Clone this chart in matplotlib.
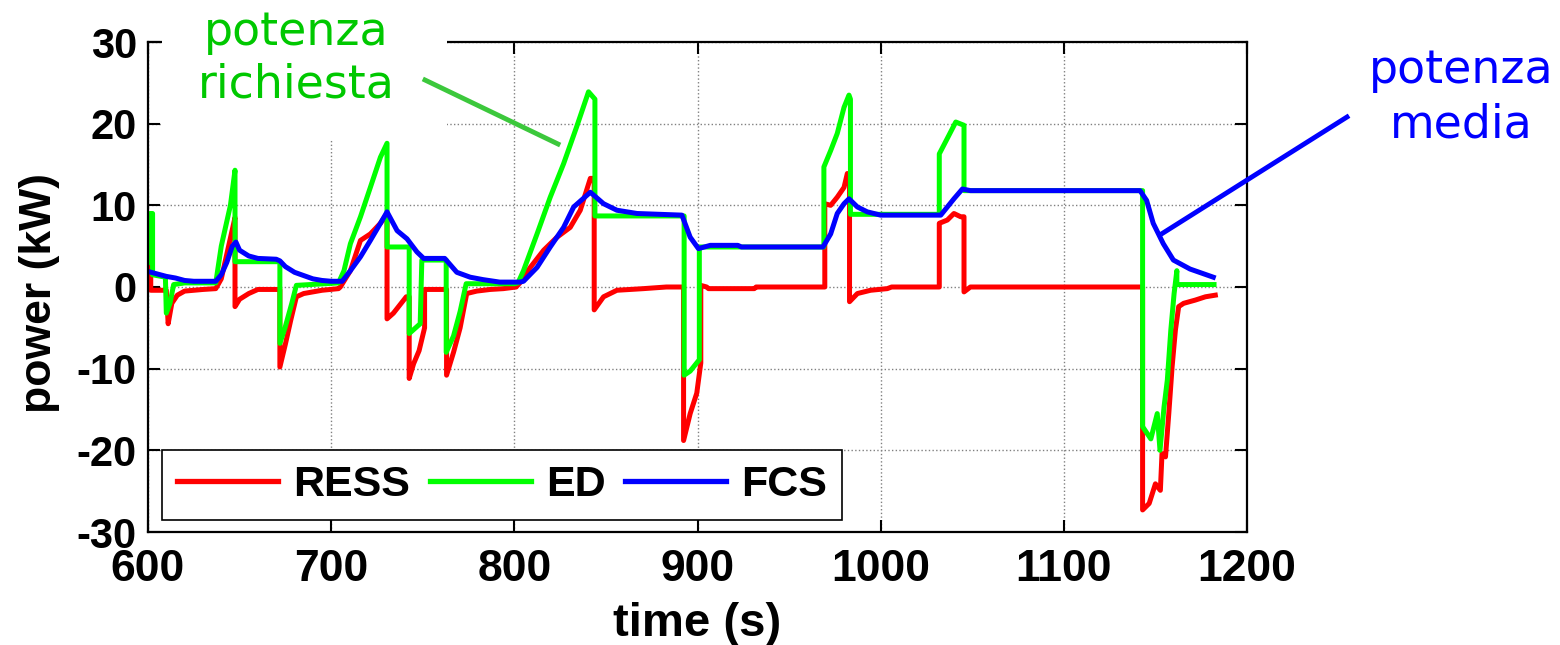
import matplotlib
matplotlib.use("Agg")
import matplotlib.pyplot as plt
from matplotlib.patches import Rectangle
from matplotlib.lines import Line2D

plt.rcParams["axes.unicode_minus"] = False

# ---------------- data ----------------
t_ress = [600, 601.5, 601.5, 610, 611, 613, 616, 620, 630, 637, 640, 645, 647.5, 647.5,
          650, 655, 660, 672, 672, 675, 678, 681, 685, 695, 704, 705, 710.5, 716, 721.4,
          726.9, 730.5, 730.5, 734, 741, 742.6, 742.6, 745, 748, 751, 751, 763, 763, 766.8,
          770.4, 774, 779.5, 786.8, 794, 801, 803, 808.7, 816, 823.3, 830.5, 836, 841.5,
          843.6, 843.6, 848.7, 856, 870.5, 883, 892.4, 892.4, 896, 899.6, 901.8, 901.8,
          905, 906, 931, 932, 969.5, 969.5, 972.7, 976.3, 980, 981.8, 983, 983, 987.3,
          994.5, 1003.6, 1006, 1032, 1032, 1036.4, 1040, 1043.7, 1045.5, 1045.5, 1049,
          1143, 1143, 1146.6, 1150, 1152.7, 1153.6, 1155.5, 1157.3, 1159.1, 1160.9, 1162.7,
          1165.4, 1171.8, 1177.3, 1182.7]
p_ress = [3.3, 3.3, -0.4, -0.4, -4.5, -2.0, -1.0, -0.5, -0.3, -0.2, 1.0, 6.0, 8.5, -2.4,
          -1.5, -0.8, -0.3, -0.3, -9.8, -7.0, -4.0, -1.2, -0.8, -0.4, -0.2, 0.0, 2.0, 5.7, 6.5,
          7.8, 9.0, -3.9, -3.2, -1.2, -1.2, -11.2, -9.4, -7.8, -5.0, -0.3, -0.3, -10.8, -8.0,
          -5.0, -0.8, -0.5, -0.3, -0.2, 0.0, 0.5, 2.4, 4.5, 6.1, 7.3, 9.4, 13.3,
          13.3, -2.8, -1.2, -0.4, -0.2, 0.0, 0.0, -18.8, -15.5, -13.0, -9.3, 0.2,
          0.0, -0.2, -0.2, 0.0, 0.0, 10.2, 10.0, 11.0, 12.2, 13.9, 13.5, -1.8, -0.8,
          -0.4, -0.2, 0.0, 0.0, 7.8, 8.2, 9.0, 8.6, 8.6, -0.6, 0.0,
          0.0, -27.3, -26.5, -24.1, -24.9, -20.4, -20.8, -15.5, -9.8, -5.3, -2.4,
          -2.0, -1.6, -1.2, -1.0]

t_ed = [600, 601, 602.5, 602.5, 609.5, 610, 612, 614, 620, 637, 638, 640, 643, 645, 647.5,
        647.5, 672, 672, 674.8, 678.5, 681, 704, 707, 710.5, 716, 721.4, 726.9, 730.5,
        730.5, 742.6, 742.6, 748.6, 749.5, 762.8, 762.8, 766.8, 770.4, 773.7, 800, 802,
        805, 812.4, 819.6, 826.9, 834, 840.5, 844, 844, 892.7, 892.7, 896, 901, 901,
        969, 969, 972.7, 976.3, 980, 982.7, 983.5, 983.5, 1032, 1032, 1036.4, 1041,
        1045.5, 1045.5, 1143, 1143, 1147.5, 1151, 1152.5, 1154.7, 1156.5, 1158.4,
        1160.2, 1161.7, 1161.7, 1182]
p_ed = [3.0, 9.0, 9.0, 1.5, 1.2, -3.2, -2.0, 0.3, 0.5, 0.5, 2.0, 5.0, 8.0, 10.0, 14.3,
        3.1, 3.1, -6.9, -5.0, -2.0, 0.2, 0.5, 2.0, 5.3, 8.6, 12.2, 15.9, 17.6,
        4.9, 4.9, -5.7, -4.5, 3.3, 3.3, -8.0, -6.0, -3.0, 0.4, 0.4, 0.5,
        2.0, 6.5, 11.0, 15.1, 19.6, 23.9, 23.0, 8.7, 8.7, -10.8, -10.3, -8.9, 4.9,
        4.9, 14.7, 16.7, 18.8, 22.0, 23.5, 23.0, 8.9, 8.9, 16.3, 18.2, 20.2,
        19.8, 11.8, 11.8, -17.1, -18.6, -15.5, -20.0, -14.7, -11.4, -5.3,
        -0.8, 2.0, 0.3, 0.3]

t_fcs = [600, 605, 610, 615, 620, 625, 637, 640, 643, 646, 648, 650, 655, 660, 670, 672,
         675, 680, 685, 690, 695, 700, 706, 710.5, 716, 721.4, 726.9, 730.5, 736, 741.4,
         746.8, 750.5, 762, 768.6, 775.9, 783, 792, 803, 805, 812.4, 819.6, 826.9, 832.4,
         841.5, 848.7, 856, 867, 891.5, 896, 900.5, 907, 922, 924, 968.5, 972.7, 976.3,
         980, 982.7, 987.3, 992.7, 1000, 1032.8, 1036.4, 1040, 1044.6, 1049, 1141.6,
         1145.2, 1148.8, 1154.3, 1159.8, 1168.9, 1181.6]
p_fcs = [1.9, 1.6, 1.3, 1.1, 0.8, 0.7, 0.7, 1.5, 3.0, 5.0, 5.5, 4.5, 3.8, 3.5, 3.4, 3.2,
         2.5, 1.8, 1.4, 1.0, 0.8, 0.7, 0.7, 2.0, 3.7, 5.7, 7.8, 9.2, 6.9, 5.9,
         4.3, 3.5, 3.5, 1.8, 1.2, 0.9, 0.6, 0.6, 0.7, 2.4, 4.9, 7.3, 9.8,
         11.6, 10.2, 9.4, 9.0, 8.8, 6.1, 4.7, 5.1, 5.1, 4.9, 4.9, 6.5, 9.0,
         10.2, 10.8, 9.8, 9.2, 8.8, 8.8, 9.8, 10.8, 12.0, 11.8, 11.8,
         10.6, 7.8, 5.3, 3.3, 2.2, 1.2]

series_labels = ["RESS", "ED", "FCS"]
series_colors = ["#ff0000", "#00ff00", "#0000ff"]
x_ticks = [600, 700, 800, 900, 1000, 1100, 1200]
y_ticks = [-30, -20, -10, 0, 10, 20, 30]

# ---------------- figure ----------------
W, H = 1560, 645
fig = plt.figure(figsize=(W / 100, H / 100), dpi=100)
fig.patch.set_facecolor("white")

def fx(px):
    return px / W

def fy(py):
    return 1 - py / H

ax = fig.add_axes([fx(148), fy(532), fx(1247) - fx(148), fy(42) - fy(532)])

lw = 3.6
for t, p, c, l in [(t_ress, p_ress, series_colors[0], series_labels[0]),
                   (t_ed, p_ed, series_colors[1], series_labels[1]),
                   (t_fcs, p_fcs, series_colors[2], series_labels[2])]:
    ax.plot(t, p, color=c, lw=lw, label=l, solid_joinstyle="round")

ax.set_xlim(600, 1200)
ax.set_ylim(-30, 30)
ax.set_xticks(x_ticks)
ax.set_yticks(y_ticks)
ax.grid(True, linestyle=":", color="#808080", linewidth=1.0)
ax.set_axisbelow(True)

for s in ax.spines.values():
    s.set_linewidth(1.6)
    s.set_color("black")

ax.tick_params(direction="in", length=8.5, width=1.5, top=True, right=True)
ax.tick_params(axis="x", pad=12.5)
ax.tick_params(axis="y", pad=8)

font = "Liberation Sans"
for lab in ax.get_xticklabels():
    lab.set_fontfamily(font)
    lab.set_fontweight("bold")
    lab.set_fontsize(32)
for lab in ax.get_yticklabels():
    lab.set_fontfamily(font)
    lab.set_fontweight("bold")
    lab.set_fontsize(30)

fig.text(fx(697), fy(624), "time (s)", ha="center", va="center",
         fontfamily=font, fontweight="bold", fontsize=34)
fig.text(fx(40), fy(293), "power (kW)", ha="center", va="center", rotation=90,
         fontfamily=font, fontweight="bold", fontsize=32)

leg = ax.legend(loc="lower left", bbox_to_anchor=(0.0128, 0.0245), borderaxespad=0,
                ncol=3, fancybox=False, framealpha=1, edgecolor="black",
                handlelength=2.35, handletextpad=0.35, columnspacing=0.45,
                borderpad=0.35,
                prop={"family": font, "weight": "bold", "size": 31})
leg.get_frame().set_linewidth(1.2)
for ln in leg.get_lines():
    ln.set_linewidth(3.8)

# white box behind the "potenza richiesta" annotation
fig.add_artist(Rectangle((fx(162), fy(140)), fx(447) - fx(162), fy(0) - fy(140),
                         transform=fig.transFigure, facecolor="white",
                         edgecolor="none", zorder=5))

ann_font = "DejaVu Sans"
green_txt = "#00c800"
fig.text(fx(296), fy(45), "potenza", ha="center", va="baseline", color=green_txt,
         fontfamily=ann_font, fontsize=33, zorder=6)
fig.text(fx(296), fy(98), "richiesta", ha="center", va="baseline", color=green_txt,
         fontfamily=ann_font, fontsize=33, zorder=6)
fig.add_artist(Line2D([fx(425), fx(558)], [fy(80), fy(144)], transform=fig.transFigure,
                      color="#3cc83c", lw=3.5, zorder=6))

fig.text(fx(1461), fy(83), "potenza", ha="center", va="baseline", color="#0000ff",
         fontfamily=ann_font, fontsize=33, zorder=6)
fig.text(fx(1461), fy(137), "media", ha="center", va="baseline", color="#0000ff",
         fontfamily=ann_font, fontsize=33, zorder=6)
fig.add_artist(Line2D([fx(1163), fx(1347)], [fy(233), fy(117)], transform=fig.transFigure,
                      color="#0000ff", lw=3.5, zorder=6))

fig.savefig("out.png", dpi=100)
